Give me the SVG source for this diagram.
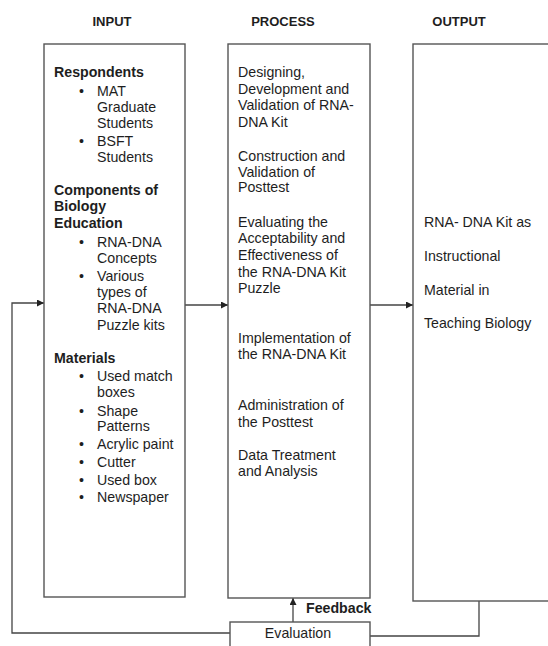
<svg xmlns="http://www.w3.org/2000/svg" width="548" height="646" viewBox="0 0 548 646">
<defs>
<marker id="ah" viewBox="0 0 10 10" refX="10" refY="5" markerWidth="7" markerHeight="7" markerUnits="userSpaceOnUse" orient="auto">
<path d="M0,0 L10,5 L0,10 z" fill="#222"/>
</marker>
<style>
.box{fill:#fff;stroke:#555;stroke-width:1.4}
.ln{fill:none;stroke:#444;stroke-width:1.3}
text{font-family:"Liberation Sans",Arial,sans-serif;fill:#1e1e1e;font-size:14.2px}
.h{font-weight:bold;font-size:13px}
.b{font-weight:bold}
</style>
</defs>
<rect width="548" height="646" fill="#fff"/>
<g id="headers">
<text class="h" x="112" y="26" text-anchor="middle">INPUT</text>
<text class="h" x="283" y="26" text-anchor="middle">PROCESS</text>
<text class="h" x="459" y="26" text-anchor="middle">OUTPUT</text>
</g>
<g id="connectors">
<line class="ln" x1="185" y1="305" x2="228" y2="305" marker-end="url(#ah)"/>
<line class="ln" x1="370" y1="305" x2="413" y2="305" marker-end="url(#ah)"/>
<line class="ln" x1="293" y1="622" x2="293" y2="598" marker-end="url(#ah)"/>
<polyline class="ln" points="230,633 12,633 12,303 44,303" marker-end="url(#ah)"/>
<polyline class="ln" points="370,636 479,636 479,601"/>
</g>
<g id="input">
<rect class="box" x="44" y="44" width="141" height="553"/>
<text class="b" x="54" y="77">Respondents</text>
<text x="79" y="96">•</text><text x="97" y="96">MAT</text>
<text x="97" y="112">Graduate</text>
<text x="97" y="128">Students</text>
<text x="79" y="146">•</text><text x="97" y="146">BSFT</text>
<text x="97" y="162">Students</text>
<text class="b" x="54" y="195">Components of</text>
<text class="b" x="54" y="211">Biology</text>
<text class="b" x="54" y="228">Education</text>
<text x="79" y="247">•</text><text x="97" y="247">RNA-DNA</text>
<text x="97" y="263">Concepts</text>
<text x="79" y="281">•</text><text x="97" y="281">Various</text>
<text x="97" y="297">types of</text>
<text x="97" y="313">RNA-DNA</text>
<text x="97" y="330">Puzzle kits</text>
<text class="b" x="54" y="363">Materials</text>
<text x="79" y="381">•</text><text x="97" y="381">Used match</text>
<text x="97" y="397">boxes</text>
<text x="79" y="416">•</text><text x="97" y="416">Shape</text>
<text x="97" y="431">Patterns</text>
<text x="79" y="449">•</text><text x="97" y="449">Acrylic paint</text>
<text x="79" y="467">•</text><text x="97" y="467">Cutter</text>
<text x="79" y="485">•</text><text x="97" y="485">Used box</text>
<text x="79" y="502">•</text><text x="97" y="502">Newspaper</text>
</g>
<g id="process">
<rect class="box" x="228" y="44" width="142" height="554"/>
<text x="238" y="77">Designing,</text>
<text x="238" y="94">Development and</text>
<text x="238" y="110">Validation of RNA-</text>
<text x="238" y="127">DNA Kit</text>
<text x="238" y="161">Construction and</text>
<text x="238" y="177">Validation of</text>
<text x="238" y="192">Posttest</text>
<text x="238" y="227">Evaluating the</text>
<text x="238" y="243">Acceptability and</text>
<text x="238" y="260">Effectiveness of</text>
<text x="238" y="277">the RNA-DNA Kit</text>
<text x="238" y="293">Puzzle</text>
<text x="238" y="343">Implementation of</text>
<text x="238" y="359">the RNA-DNA Kit</text>
<text x="238" y="410">Administration of</text>
<text x="238" y="427">the Posttest</text>
<text x="238" y="460">Data Treatment</text>
<text x="238" y="476">and Analysis</text>
</g>
<g id="output">
<rect class="box" x="413" y="44" width="150" height="557"/>
<text x="424" y="227">RNA- DNA Kit as</text>
<text x="424" y="261">Instructional</text>
<text x="424" y="295">Material in</text>
<text x="424" y="328">Teaching Biology</text>
</g>
<g id="evaluation">
<rect class="box" x="230" y="622" width="140" height="30"/>
<text x="298" y="638" text-anchor="middle">Evaluation</text>
</g>
<g id="feedback-label">
<text class="b" x="306" y="613">Feedback</text>
</g>
</svg>
